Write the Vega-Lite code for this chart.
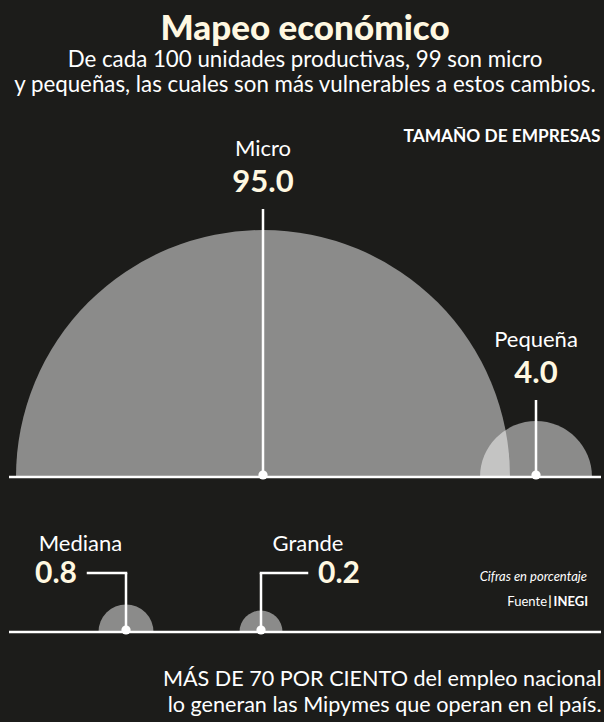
{
  "$schema": "https://vega.github.io/schema/vega-lite/v6.json",
  "width": 592,
  "height": 722,
  "autosize": {"type": "none"},
  "padding": {"left": 9, "right": 3, "top": 0, "bottom": 0},
  "background": "#1c1c1a",
  "config": {"font": "Lato", "view": {"stroke": null}},
  "title": {
    "text": "Mapeo económico",
    "subtitle": ["De cada 100 unidades productivas, 99 son micro", "y pequeñas, las cuales son más vulnerables a estos cambios."],
    "anchor": "middle",
    "frame": "group",
    "offset": -96,
    "font": "Lato",
    "fontSize": 35,
    "fontWeight": 900,
    "color": "#fff8e1",
    "subtitleFont": "Lato",
    "subtitleFontSize": 22.3,
    "subtitleColor": "#ffffff",
    "subtitleLineHeight": 25,
    "subtitlePadding": 2
  },
  "data": {
    "values": [
      {"size": "Micro", "value": 95.0, "row": "top"},
      {"size": "Pequeña", "value": 4.0, "row": "top"},
      {"size": "Mediana", "value": 0.8, "row": "bottom"},
      {"size": "Grande", "value": 0.2, "row": "bottom"}
    ]
  },
  "layer": [
    {
      "transform": [{"filter": "datum.row === 'top'"}],
      "encoding": {
        "x": {
          "field": "size", "type": "nominal", "sort": null,
          "scale": {"type": "point", "domain": ["Micro", "Pequeña"], "range": [254, 527], "padding": 0},
          "axis": {"orient": "top", "title": "TAMAÑO DE EMPRESAS", "labels": false, "ticks": false, "domain": false, "grid": false,
                   "titleX": 591, "titleY": 141, "titleAlign": "right", "titleBaseline": "alphabetic", "titleAnchor": "end",
                   "titleFont": "Lato", "titleFontSize": 17.3, "titleFontWeight": "bold", "titleColor": "#ffffff"}
        },
        "y": {"field": "row", "type": "nominal", "scale": {"type": "point", "domain": ["top", "bottom"], "range": [477, 632], "padding": 0}, "axis": null}
      },
      "layer": [
        {
          "mark": {"type": "arc", "theta": -1.5707963, "theta2": 1.5707963, "fill": "#ffffff", "fillOpacity": 0.49},
          "encoding": {"radius": {"field": "value", "type": "quantitative", "stack": null, "scale": {"type": "linear", "domain": [0, 0.2, 0.8, 4, 95], "range": [0, 21.5, 27.5, 56, 247], "zero": false, "nice": false}, "legend": null}}
        },
        {
          "mark": {"type": "arc", "theta": 0, "theta2": 0, "stroke": "#ffffff", "strokeWidth": 2.5, "radiusOffset": 21},
          "encoding": {"radius": {"field": "value", "type": "quantitative", "stack": null}}
        },
        {
          "mark": {"type": "point", "filled": true, "color": "#ffffff", "opacity": 1, "size": 85, "yOffset": -2}
        },
        {
          "mark": {"type": "text", "theta": 0, "radiusOffset": 38.5, "fontSize": 31, "fontWeight": "bold", "color": "#fff8e1", "baseline": "alphabetic", "align": "center"},
          "encoding": {"radius": {"field": "value", "type": "quantitative", "stack": null}, "text": {"field": "value", "type": "quantitative", "format": ".1f"}}
        },
        {
          "mark": {"type": "text", "theta": 0, "radiusOffset": 74, "fontSize": 22, "color": "#ffffff", "baseline": "alphabetic", "align": "center"},
          "encoding": {"radius": {"field": "value", "type": "quantitative", "stack": null}, "text": {"field": "size", "type": "nominal"}}
        }
      ]
    },
    {
      "transform": [{"filter": "datum.row === 'bottom'"}],
      "encoding": {
        "x": {
          "field": "size", "type": "nominal", "sort": null,
          "scale": {"type": "point", "domain": ["Mediana", "Grande"], "range": [117, 252], "padding": 0},
          "axis": {"orient": "bottom", "title": ["MÁS DE 70 POR CIENTO del empleo nacional", "lo generan las Mipymes que operan en el país."],
                   "labels": false, "ticks": false, "domain": false, "grid": false,
                   "titleX": 592, "titleY": -37, "titleAlign": "right", "titleBaseline": "alphabetic", "titleAnchor": "end",
                   "titleFont": "Lato", "titleFontSize": 21.6, "titleFontWeight": "normal", "titleLineHeight": 26, "titleColor": "#ffffff"}
        },
        "y": {"field": "row", "type": "nominal", "scale": {"type": "point", "domain": ["top", "bottom"], "range": [477, 632], "padding": 0}, "axis": null}
      },
      "layer": [
        {
          "mark": {"type": "arc", "theta": -1.5707963, "theta2": 1.5707963, "fill": "#ffffff", "fillOpacity": 0.49},
          "encoding": {"radius": {"field": "value", "type": "quantitative", "stack": null}}
        },
        {
          "mark": {"type": "rule", "color": "#ffffff", "strokeWidth": 2.5, "y2Offset": -59},
          "encoding": {"y2": {"field": "row"}}
        },
        {
          "transform": [{"filter": "datum.size === 'Mediana'"}],
          "mark": {"type": "rule", "color": "#ffffff", "strokeWidth": 2.5, "yOffset": -59, "x2Offset": -38, "strokeCap": "square"},
          "encoding": {"x2": {"field": "size"}}
        },
        {
          "transform": [{"filter": "datum.size === 'Grande'"}],
          "mark": {"type": "rule", "color": "#ffffff", "strokeWidth": 2.5, "yOffset": -59, "x2Offset": 46, "strokeCap": "square"},
          "encoding": {"x2": {"field": "size"}}
        },
        {
          "mark": {"type": "point", "filled": true, "color": "#ffffff", "opacity": 1, "size": 85, "yOffset": -2}
        },
        {
          "transform": [{"filter": "datum.size === 'Mediana'"}],
          "mark": {"type": "text", "fontSize": 22, "color": "#ffffff", "baseline": "alphabetic", "align": "center", "dx": -45.5, "dy": -81},
          "encoding": {"text": {"field": "size", "type": "nominal"}}
        },
        {
          "transform": [{"filter": "datum.size === 'Grande'"}],
          "mark": {"type": "text", "fontSize": 22, "color": "#ffffff", "baseline": "alphabetic", "align": "center", "dx": 47, "dy": -81},
          "encoding": {"text": {"field": "size", "type": "nominal"}}
        },
        {
          "transform": [{"filter": "datum.size === 'Mediana'"}],
          "mark": {"type": "text", "fontSize": 30, "fontWeight": "bold", "color": "#fff8e1", "baseline": "alphabetic", "align": "right", "dx": -49, "dy": -49},
          "encoding": {"text": {"field": "value", "type": "quantitative", "format": ".1f"}}
        },
        {
          "transform": [{"filter": "datum.size === 'Grande'"}],
          "mark": {"type": "text", "fontSize": 30, "fontWeight": "bold", "color": "#fff8e1", "baseline": "alphabetic", "align": "left", "dx": 57, "dy": -49},
          "encoding": {"text": {"field": "value", "type": "quantitative", "format": ".1f"}}
        },
        {
          "data": {"values": [{"note": "Cifras en porcentaje"}]},
          "mark": {"type": "text", "fontSize": 13, "fontStyle": "italic", "color": "#ffffff", "baseline": "alphabetic", "align": "right", "dx": -14, "dy": -51},
          "encoding": {"x": {"value": "width"}, "y": {"datum": "bottom", "type": "nominal"}, "text": {"field": "note", "type": "nominal"}}
        },
        {
          "data": {"values": [{"note": "Fuente"}]},
          "mark": {"type": "text", "fontSize": 13, "color": "#ffffff", "baseline": "alphabetic", "align": "right", "dx": -54, "dy": -26},
          "encoding": {"x": {"value": "width"}, "y": {"datum": "bottom", "type": "nominal"}, "text": {"field": "note", "type": "nominal"}}
        },
        {
          "data": {"values": [{"note": "|"}]},
          "mark": {"type": "text", "fontSize": 13, "fontWeight": "bold", "color": "#fff8e1", "baseline": "alphabetic", "align": "center", "dx": -51, "dy": -26},
          "encoding": {"x": {"value": "width"}, "y": {"datum": "bottom", "type": "nominal"}, "text": {"field": "note", "type": "nominal"}}
        },
        {
          "data": {"values": [{"note": "INEGI"}]},
          "mark": {"type": "text", "fontSize": 13, "fontWeight": "bold", "color": "#ffffff", "baseline": "alphabetic", "align": "right", "dx": -13, "dy": -26},
          "encoding": {"x": {"value": "width"}, "y": {"datum": "bottom", "type": "nominal"}, "text": {"field": "note", "type": "nominal"}}
        }
      ]
    },
    {
      "transform": [{"aggregate": [{"op": "count", "as": "n"}], "groupby": ["row"]}],
      "mark": {"type": "rule", "color": "#ffffff", "strokeWidth": 2.5},
      "encoding": {
        "y": {"field": "row", "type": "nominal", "scale": {"type": "point", "domain": ["top", "bottom"], "range": [477, 632], "padding": 0}, "axis": null}
      }
    }
  ],
  "resolve": {"scale": {"x": "independent"}, "axis": {"x": "independent"}}
}
